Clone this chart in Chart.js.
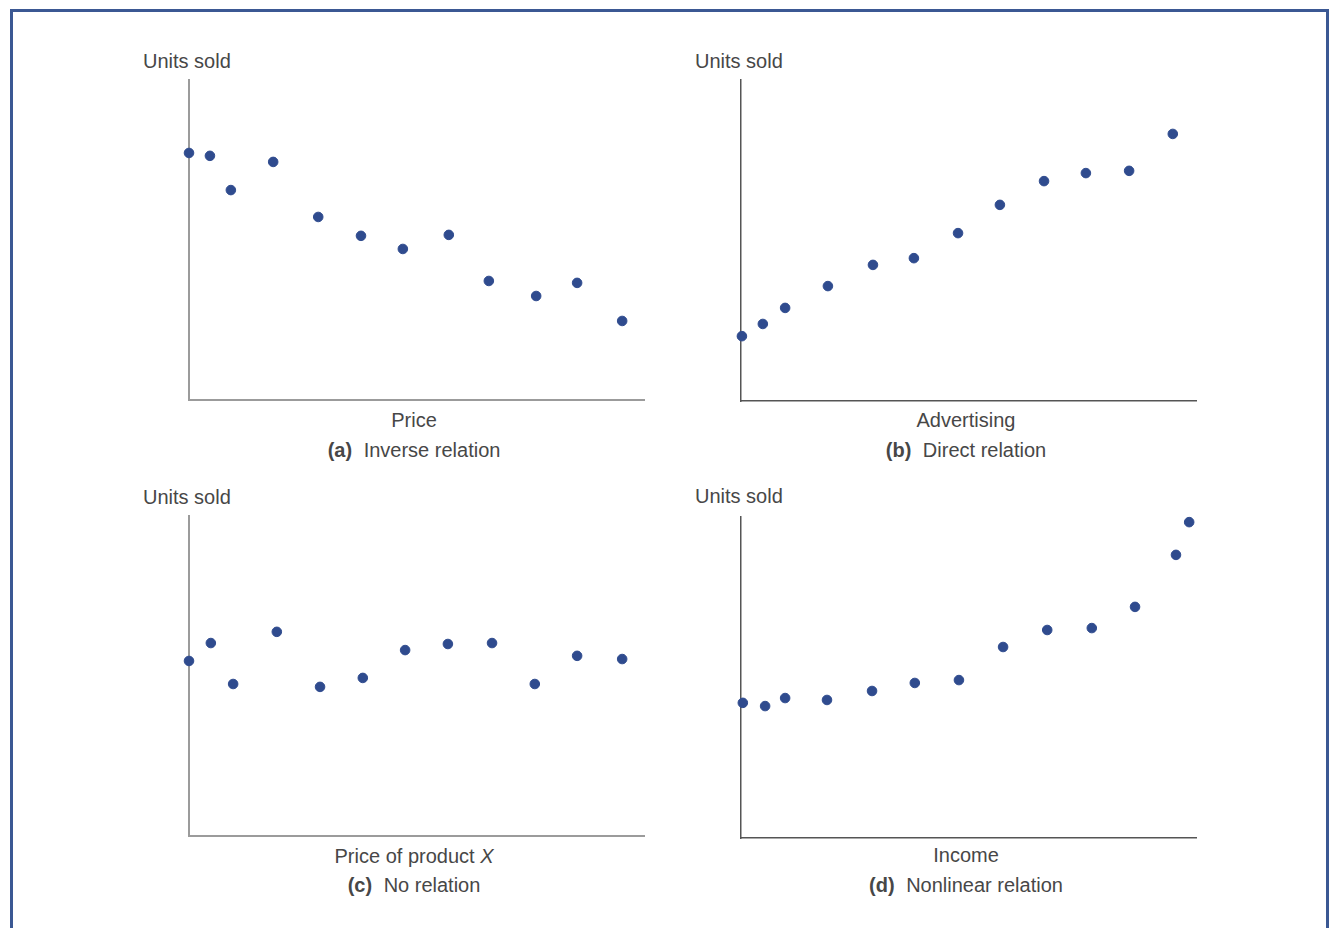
<!DOCTYPE html>
<html>
<head>
<meta charset="utf-8">
<script src="https://cdn.jsdelivr.net/npm/chart.js@4.4.0/dist/chart.umd.min.js"></script>
<style>
    html, body { margin: 0; padding: 0; background: #ffffff; }
    body { width: 1329px; height: 928px; position: relative; overflow: hidden;
           font-family: "Liberation Sans", Arial, Helvetica, sans-serif; color: #474747; }
    #frame { position: absolute; left: 10px; top: 9px; width: 1313px; height: 1000px;
             border: 3px solid #3b5893; border-bottom: none; }
    .panel { position: absolute; }
    .lbl { position: absolute; font-size: 20px; white-space: nowrap; line-height: 22px; }
    .center { transform: translateX(-50%); }
    .cap b { font-weight: bold; margin-right: 6px; }
</style>
</head>
<body>
<div id="frame"></div>

<div class="lbl" style="left:143px; top:50px;">Units sold</div>
<div class="lbl" style="left:695px; top:50px;">Units sold</div>
<div class="lbl" style="left:143px; top:486px;">Units sold</div>
<div class="lbl" style="left:695px; top:485px;">Units sold</div>

<div class="lbl center" style="left:414px; top:409px;">Price</div>
<div class="lbl center cap" style="left:414px; top:439px;"><b>(a)</b> Inverse relation</div>
<div class="lbl center" style="left:966px; top:409px;">Advertising</div>
<div class="lbl center cap" style="left:966px; top:439px;"><b>(b)</b> Direct relation</div>
<div class="lbl center" style="left:414px; top:845px;">Price of product <i>X</i></div>
<div class="lbl center cap" style="left:414px; top:874px;"><b>(c)</b> No relation</div>
<div class="lbl center" style="left:966px; top:844px;">Income</div>
<div class="lbl center cap" style="left:966px; top:874px;"><b>(d)</b> Nonlinear relation</div>

<script>
// (a) Inverse relation: price vs units sold
const inverseX = [0, 4.6, 9.2, 18.5, 28.4, 37.8, 47.0, 57.1, 65.9, 76.3, 85.3, 95.2];
const inverseY = [77.2, 76.3, 65.6, 74.4, 57.2, 51.3, 47.2, 51.6, 37.2, 32.5, 36.6, 24.7];

// (b) Direct relation: advertising vs units sold
const directX = [0.2, 4.8, 9.7, 19.1, 29.0, 38.0, 47.7, 56.9, 66.6, 75.8, 85.3, 94.9];
const directY = [20.2, 24.0, 29.0, 35.8, 42.4, 44.5, 52.3, 61.1, 68.5, 71.0, 71.7, 83.2];

// (c) No relation: price of product X vs units sold
const noneX = [0, 4.8, 9.7, 19.3, 28.8, 38.2, 47.5, 56.9, 66.6, 76.0, 85.3, 95.2];
const noneY = [54.7, 60.3, 47.5, 63.8, 46.6, 49.4, 58.1, 60.0, 60.3, 47.5, 56.3, 55.3];

// (d) Nonlinear relation: income vs units sold
const nonlinearX = [0.4, 5.3, 9.7, 18.9, 28.8, 38.2, 47.9, 57.6, 67.3, 77.1, 86.6, 95.6, 98.5];
const nonlinearY = [42.1, 41.1, 43.6, 43.0, 45.8, 48.3, 49.2, 59.5, 64.8, 65.4, 72.0, 88.2, 98.4];

const dotColor = '#2f4b8e';
const pad = 20;

function toPoints(xs, ys) {
    return xs.map((x, i) => ({ x: x, y: ys[i] }));
}

function makePanel(left, top, width, height, xs, ys, axisColor, axisWidth) {
    const div = document.createElement('div');
    div.className = 'panel';
    div.style.left = (left - pad) + 'px';
    div.style.top = (top - pad) + 'px';
    div.style.width = (width + pad * 2) + 'px';
    div.style.height = (height + pad * 2) + 'px';
    const canvas = document.createElement('canvas');
    div.appendChild(canvas);
    document.body.appendChild(div);

    const axis = {
        type: 'linear',
        min: 0,
        max: 100,
        grid: { display: false, drawTicks: false },
        ticks: { display: false },
        border: { display: true, color: axisColor, width: axisWidth }
    };

    const chart = new Chart(canvas.getContext('2d'), {
        type: 'scatter',
        data: {
            datasets: [{
                data: toPoints(xs, ys),
                backgroundColor: dotColor,
                borderColor: dotColor,
                pointRadius: 4.8,
                pointHoverRadius: 4.8,
                clip: false
            }]
        },
        options: {
            responsive: true,
            maintainAspectRatio: false,
            animation: false,
            events: [],
            layout: { padding: { left: pad, right: pad, top: pad, bottom: pad } },
            plugins: { legend: { display: false }, tooltip: { enabled: false } },
            scales: { x: axis, y: JSON.parse(JSON.stringify(axis)) }
        }
    });

    // make the chart area sit exactly on the axis lines of the reference
    const area = chart.chartArea;
    const extraLeft = area.left - pad;
    const extraBottom = (height + pad) - area.bottom;
    chart.options.layout.padding.left = pad - extraLeft;
    chart.options.layout.padding.bottom = pad - extraBottom;
    chart.update('none');
    return chart;
}

makePanel(189, 80, 455, 320, inverseX, inverseY, '#9b9b9b', 2);
makePanel(741, 80, 455, 321, directX, directY, '#555555', 1.5);
makePanel(189, 516, 455, 320, noneX, noneY, '#9b9b9b', 2);
makePanel(741, 517, 455, 321, nonlinearX, nonlinearY, '#555555', 1.5);
</script>
</body>
</html>
